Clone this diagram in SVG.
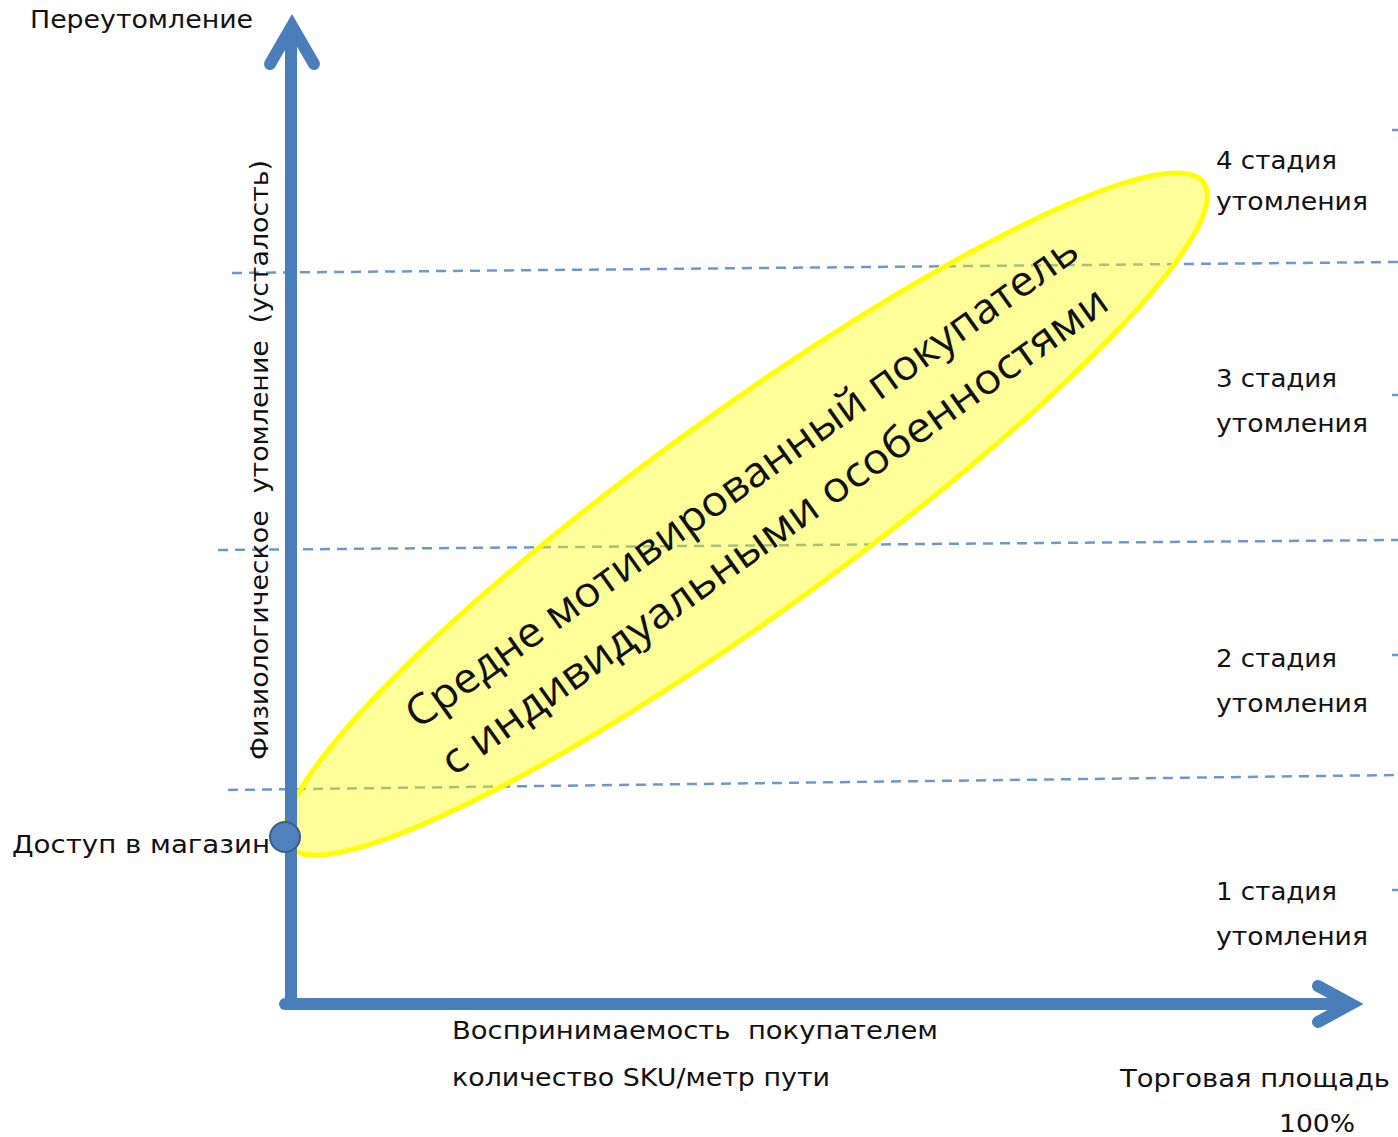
<svg xmlns="http://www.w3.org/2000/svg" width="1398" height="1137" viewBox="0 0 1398 1137">
  <style>
    .lbl { font-family: "DejaVu Sans", "Liberation Sans", sans-serif; font-size: 24px; fill: #111; }
    .axis { fill: none; stroke: #4a7ebb; stroke-width: 12; stroke-linecap: round; }
    .grid { fill: none; stroke: #4a7ebb; stroke-width: 2.5; stroke-dasharray: 10 7; opacity: 0.8; }
    .zone { font-family: "Open Sans", "Liberation Sans", sans-serif; font-size: 42px; fill: #111; }
  </style>
  <rect width="1398" height="1137" fill="#ffffff"/>

  <!-- stage boundaries -->
  <g id="stage-lines">
    <line class="grid" x1="232" y1="273" x2="1398" y2="262"/>
    <line class="grid" x1="218" y1="550" x2="1398" y2="540"/>
    <line class="grid" x1="228" y1="790" x2="1398" y2="775"/>
    <line class="grid" x1="1392" y1="130" x2="1398" y2="130"/>
    <line class="grid" x1="1392" y1="395" x2="1398" y2="395"/>
    <line class="grid" x1="1392" y1="655" x2="1398" y2="655"/>
    <line class="grid" x1="1392" y1="890" x2="1398" y2="890"/>
  </g>

  <!-- buyer zone -->
  <g id="buyer-zone">
    <ellipse cx="746" cy="514" rx="565" ry="100" transform="rotate(-35.9 746 514)" fill="#ffff00" fill-opacity="0.4" stroke="#ffff00" stroke-width="5"/>
    <g transform="translate(746 512) rotate(-35.5)">
      <text class="zone" x="14" y="-13" text-anchor="middle" textLength="815" lengthAdjust="spacingAndGlyphs">Средне мотивированный покупатель</text>
      <text class="zone" x="12" y="46" text-anchor="middle" textLength="808" lengthAdjust="spacingAndGlyphs">с индивидуальными особенностями</text>
    </g>
  </g>

  <!-- axes -->
  <g id="connectors">
    <line class="axis" x1="291" y1="1004" x2="291" y2="28" stroke-linecap="butt"/>
    <polyline class="axis" points="270,64 292,26 314,64" stroke-linejoin="miter"/>
    <line class="axis" x1="285" y1="1004" x2="1350" y2="1004" stroke-linecap="butt"/>
    <polyline class="axis" points="1318,986 1351,1004 1318,1022" stroke-linejoin="miter"/>
  </g>

  <g id="store-entry">
    <circle cx="285" cy="837" r="15" fill="#4f81bd" stroke="#385d8a" stroke-width="2"/>
    <text class="lbl" x="12" y="853" textLength="258" lengthAdjust="spacingAndGlyphs">Доступ в магазин</text>
  </g>

  <g id="y-axis-labels">
    <text class="lbl" x="30" y="28" textLength="223" lengthAdjust="spacingAndGlyphs">Переутомление</text>
    <text class="lbl" transform="translate(268 760) rotate(-90)" x="0" y="0" textLength="600" lengthAdjust="spacingAndGlyphs" xml:space="preserve">Физиологическое  утомление  (усталость)</text>
  </g>

  <g id="stage-4">
    <text class="lbl" x="1216" y="169" textLength="121" lengthAdjust="spacingAndGlyphs">4 стадия</text>
    <text class="lbl" x="1216" y="210" textLength="152" lengthAdjust="spacingAndGlyphs">утомления</text>
  </g>
  <g id="stage-3">
    <text class="lbl" x="1216" y="387" textLength="121" lengthAdjust="spacingAndGlyphs">3 стадия</text>
    <text class="lbl" x="1216" y="432" textLength="152" lengthAdjust="spacingAndGlyphs">утомления</text>
  </g>
  <g id="stage-2">
    <text class="lbl" x="1216" y="667" textLength="121" lengthAdjust="spacingAndGlyphs">2 стадия</text>
    <text class="lbl" x="1216" y="712" textLength="152" lengthAdjust="spacingAndGlyphs">утомления</text>
  </g>
  <g id="stage-1">
    <text class="lbl" x="1216" y="900" textLength="121" lengthAdjust="spacingAndGlyphs">1 стадия</text>
    <text class="lbl" x="1216" y="945" textLength="152" lengthAdjust="spacingAndGlyphs">утомления</text>
  </g>

  <g id="x-axis-labels">
    <text class="lbl" x="452" y="1039" textLength="486" lengthAdjust="spacingAndGlyphs" xml:space="preserve">Воспринимаемость  покупателем</text>
    <text class="lbl" x="452" y="1086" textLength="378" lengthAdjust="spacingAndGlyphs">количество SKU/метр пути</text>
    <text class="lbl" x="1120" y="1087" textLength="270" lengthAdjust="spacingAndGlyphs">Торговая площадь</text>
    <text class="lbl" x="1279" y="1132" textLength="76" lengthAdjust="spacingAndGlyphs">100%</text>
  </g>
</svg>
